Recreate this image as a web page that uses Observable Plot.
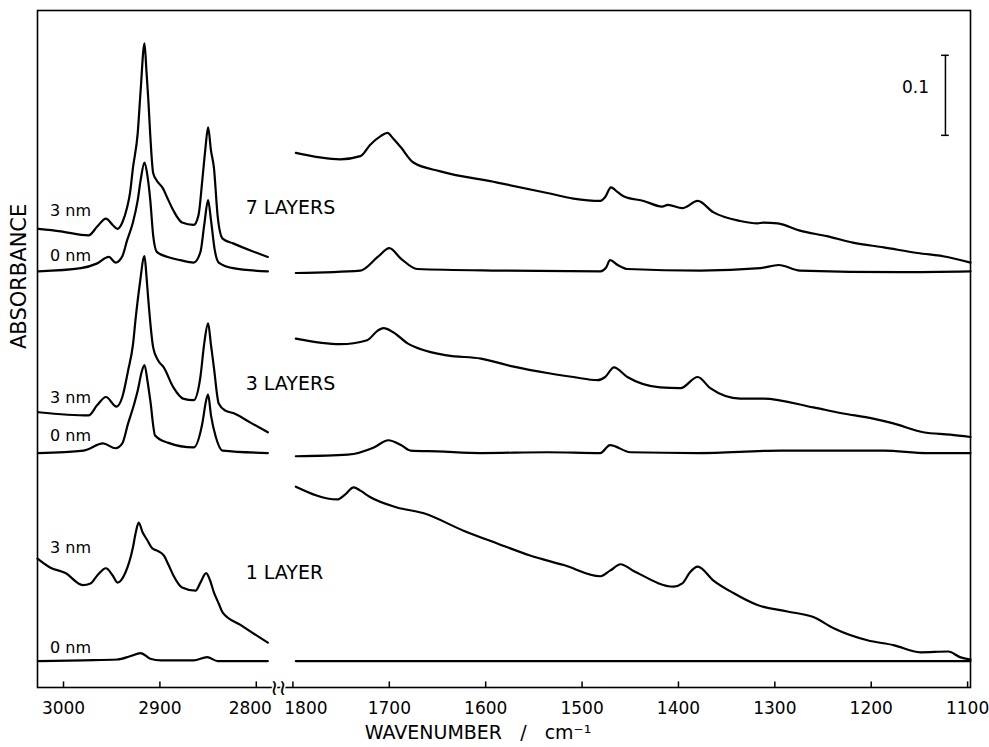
<!DOCTYPE html>
<html>
<head>
<meta charset="utf-8">
<script src="https://cdn.jsdelivr.net/npm/d3@7"></script>
<script src="https://cdn.jsdelivr.net/npm/@observablehq/plot@0.6"></script>
<style>
  html, body { margin: 0; padding: 0; background: #fff; }
  #chart { width: 989px; height: 747px; }
</style>
</head>
<body>
<div id="chart"></div>
<script>
// ---- Data (wavenumber cm^-1, displayed absorbance incl. vertical offset) ----
const layers7_3nm = [
  [3026,0.573],[3003,0.570],[2974,0.565],[2965,0.576],[2956,0.586],[2949,0.578],[2944,0.573],
  [2939,0.581],[2934,0.600],[2931,0.618],[2928,0.649],[2923,0.693],[2920,0.746],[2916,0.805],
  [2914,0.771],[2912,0.734],[2910,0.690],[2907,0.643],[2903,0.633],[2897,0.624],[2892,0.611],
  [2886,0.596],[2877,0.581],[2865,0.578],[2860,0.590],[2856,0.634],[2853,0.671],[2850,0.700],
  [2847,0.671],[2844,0.650],[2840,0.588],[2835,0.561],[2824,0.555],[2806,0.546],[2788,0.538],
  [1797,0.668],[1751,0.660],[1730,0.664],[1720,0.678],[1709,0.689],[1702,0.693],[1696,0.686],
  [1688,0.675],[1675,0.656],[1647,0.645],[1588,0.631],[1536,0.618],[1509,0.611],[1481,0.608],
  [1476,0.613],[1470,0.625],[1463,0.619],[1457,0.614],[1436,0.608],[1417,0.601],[1411,0.603],
  [1396,0.599],[1380,0.608],[1364,0.594],[1336,0.583],[1318,0.580],[1312,0.581],[1297,0.580],
  [1274,0.571],[1246,0.564],[1219,0.556],[1187,0.550],[1152,0.543],[1121,0.538],[1097,0.531]
];
const layers7_0nm = [
  [3026,0.520],[2982,0.524],[2965,0.530],[2953,0.538],[2946,0.531],[2939,0.539],[2934,0.559],
  [2928,0.581],[2923,0.609],[2920,0.634],[2916,0.656],[2913,0.640],[2910,0.609],[2907,0.565],
  [2903,0.544],[2892,0.538],[2879,0.534],[2865,0.531],[2858,0.544],[2854,0.578],[2850,0.609],
  [2847,0.584],[2843,0.546],[2839,0.531],[2824,0.524],[2788,0.520],
  [1797,0.518],[1730,0.521],[1712,0.538],[1700,0.549],[1688,0.536],[1671,0.523],[1585,0.521],
  [1481,0.520],[1475,0.525],[1471,0.534],[1463,0.528],[1453,0.523],[1377,0.521],[1315,0.524],
  [1296,0.528],[1274,0.521],[1170,0.519],[1097,0.520]
];
const layers3_3nm = [
  [3026,0.344],[2974,0.340],[2965,0.353],[2956,0.363],[2945,0.351],[2939,0.363],[2933,0.396],
  [2928,0.428],[2925,0.463],[2921,0.503],[2916,0.539],[2914,0.515],[2912,0.484],[2907,0.425],
  [2902,0.409],[2896,0.400],[2886,0.375],[2876,0.361],[2865,0.359],[2858,0.388],[2854,0.430],
  [2850,0.455],[2847,0.428],[2844,0.400],[2839,0.355],[2832,0.346],[2824,0.343],[2806,0.331],
  [2788,0.319],
  [1797,0.436],[1751,0.429],[1723,0.434],[1712,0.446],[1706,0.449],[1696,0.444],[1681,0.430],
  [1668,0.423],[1640,0.415],[1605,0.411],[1571,0.401],[1536,0.393],[1509,0.388],[1484,0.384],
  [1476,0.388],[1467,0.400],[1453,0.388],[1419,0.375],[1398,0.374],[1380,0.388],[1367,0.374],
  [1336,0.361],[1312,0.361],[1260,0.350],[1232,0.343],[1198,0.336],[1177,0.330],[1146,0.319],
  [1118,0.316],[1097,0.313]
];
const layers3_0nm = [
  [3026,0.293],[2979,0.296],[2959,0.305],[2946,0.299],[2939,0.305],[2933,0.330],[2927,0.353],
  [2923,0.371],[2919,0.394],[2916,0.403],[2913,0.384],[2910,0.359],[2905,0.315],[2892,0.306],
  [2865,0.300],[2856,0.330],[2852,0.359],[2850,0.366],[2847,0.340],[2842,0.313],[2835,0.296],
  [2788,0.293],
  [1797,0.289],[1743,0.291],[1716,0.300],[1701,0.309],[1688,0.303],[1678,0.296],[1650,0.295],
  [1605,0.293],[1536,0.294],[1481,0.293],[1471,0.303],[1450,0.294],[1380,0.293],[1294,0.296],
  [1187,0.296],[1142,0.293],[1097,0.293]
];
const layers1_3nm = [
  [3027,0.161],[3014,0.150],[2998,0.143],[2980,0.128],[2972,0.130],[2965,0.140],[2956,0.149],
  [2949,0.140],[2944,0.131],[2936,0.143],[2928,0.175],[2925,0.194],[2922,0.206],[2918,0.194],
  [2913,0.184],[2908,0.174],[2903,0.171],[2896,0.165],[2891,0.153],[2886,0.140],[2877,0.125],
  [2863,0.121],[2858,0.131],[2852,0.143],[2848,0.134],[2844,0.119],[2839,0.105],[2835,0.094],
  [2816,0.078],[2788,0.056],
  [1797,0.251],[1754,0.235],[1746,0.241],[1737,0.250],[1730,0.246],[1720,0.238],[1692,0.225],
  [1665,0.218],[1623,0.196],[1588,0.180],[1554,0.165],[1519,0.153],[1481,0.139],[1471,0.146],
  [1460,0.154],[1447,0.146],[1405,0.126],[1396,0.130],[1388,0.144],[1380,0.151],[1364,0.134],
  [1343,0.118],[1318,0.103],[1287,0.095],[1260,0.088],[1239,0.074],[1204,0.059],[1177,0.053],
  [1149,0.044],[1120,0.045],[1108,0.038],[1097,0.035]
];
const layers1_0nm = [
  [3026,0.033],[2979,0.034],[2944,0.035],[2931,0.039],[2920,0.043],[2910,0.036],[2899,0.034],
  [2865,0.034],[2851,0.038],[2840,0.033],[2788,0.033],
  [1797,0.033],[1600,0.033],[1400,0.033],[1200,0.033],[1097,0.033]
];
const seriesNames = ["7L 3nm","7L 0nm","3L 3nm","3L 0nm","1L 3nm","1L 0nm"];
const seriesData = [layers7_3nm, layers7_0nm, layers3_3nm, layers3_0nm, layers1_3nm, layers1_0nm];

const thicknessLabels = ["3 nm","0 nm","3 nm","0 nm","3 nm","0 nm"];
const thicknessLabelY = [0.595, 0.539, 0.3625, 0.314, 0.174, 0.050];
const layerLabels = ["7 LAYERS","3 LAYERS","1 LAYER"];
const layerLabelY = [0.599, 0.379, 0.143];

const tickValues = [3000, 2900, 2800, 1800, 1700, 1600, 1500, 1400, 1300, 1200, 1100];
const tickLabelsMid = [3000, 2900, 1700, 1600, 1500, 1400, 1300, 1200, 1100];

// broken axis: two wavenumber windows
const LEFT_MAX = 3027, LEFT_MIN = 2788, RIGHT_MAX = 1804, RIGHT_MIN = 1097, GAP = 22;
const LEFT_SPAN = LEFT_MAX - LEFT_MIN;
const TOTAL = LEFT_SPAN + GAP + (RIGHT_MAX - RIGHT_MIN);
const pos = wn => wn > 2200 ? LEFT_MAX - wn : LEFT_SPAN + GAP + (RIGHT_MAX - wn);
const invPos = p => p <= LEFT_SPAN + GAP / 2 ? LEFT_MAX - p : RIGHT_MAX - (p - LEFT_SPAN - GAP);
const BREAK_POS = LEFT_SPAN + GAP / 2;

// scale bar
const SCALE_WN = 1123, SCALE_BASE = 0.69, SCALE_LEN = 0.1, SCALE_SERIF = 4;
const SCALE_TEXT_WN = 1154;

const rows = [];
seriesData.forEach((arr, i) => {
  arr.forEach(([wn, a]) => rows.push({series: seriesNames[i], seg: wn > 2200 ? "L" : "R", wn, a}));
});

const labelsThk = thicknessLabels.map((t, i) => ({t, y: thicknessLabelY[i]}));
const labelsLay = layerLabels.map((t, i) => ({t, y: layerLabelY[i]}));

const axisOpts = {
  tickSize: 0, tickPadding: 14, fontSize: 17, label: null,
  tickFormat: p => String(Math.round(invPos(p)))
};

const chart = Plot.plot({
  width: 989,
  height: 747,
  marginLeft: 37,
  marginRight: 19,
  marginTop: 10,
  marginBottom: 60,
  style: {fontFamily: "DejaVu Sans", background: "#fff", color: "#000"},
  x: {domain: [0, TOTAL], axis: null},
  y: {domain: [0, 0.846], axis: null},
  marks: [
    Plot.frame({stroke: "#000", strokeWidth: 1.6}),
    Plot.line(rows, {
      x: d => pos(d.wn), y: "a", z: d => d.series + d.seg,
      curve: "monotone-x", stroke: "#000", strokeWidth: 2.2
    }),
    // inward ticks
    Plot.ruleX(tickValues, {x: d => pos(d), y1: 0, y2: 0.007, stroke: "#000", strokeWidth: 1.5}),
    Plot.axisX(tickLabelsMid.map(pos), axisOpts),
    Plot.axisX([pos(2800)], {...axisOpts, dx: -6}),
    Plot.axisX([pos(1800)], {...axisOpts, dx: 13}),
    // axis break mark
    Plot.text([BREAK_POS], {
      x: d => d, y: () => 0, text: () => "≀≀", fontSize: 22,
      fill: "#000", stroke: "#fff", strokeWidth: 3
    }),
    // axis titles
    Plot.text(["WAVENUMBER   /   cm⁻¹"], {
      frameAnchor: "bottom", text: d => d, dy: 51, dx: -26, fontSize: 19, fill: "#000"
    }),
    Plot.text(["ABSORBANCE"], {
      frameAnchor: "left", text: d => d, rotate: -90, dx: -18, fontSize: 21, fill: "#000"
    }),
    // series labels
    Plot.text(labelsThk, {x: () => pos(3014), y: "y", text: "t", textAnchor: "start", fontSize: 16, fill: "#000"}),
    Plot.text(labelsLay, {x: () => pos(2811), y: "y", text: "t", textAnchor: "start", fontSize: 19, fill: "#000"}),
    // scale bar
    Plot.ruleX([SCALE_WN], {x: d => pos(d), y1: SCALE_BASE, y2: SCALE_BASE + SCALE_LEN, stroke: "#000", strokeWidth: 1.5}),
    Plot.ruleY([SCALE_BASE, SCALE_BASE + SCALE_LEN], {
      y: d => d, x1: pos(SCALE_WN + SCALE_SERIF), x2: pos(SCALE_WN - SCALE_SERIF), stroke: "#000", strokeWidth: 1.5
    }),
    Plot.text(["0.1"], {x: () => pos(SCALE_TEXT_WN), y: () => SCALE_BASE + SCALE_LEN / 2 + 0.01, text: d => d, fontSize: 17, fill: "#000"})
  ]
});
document.getElementById("chart").appendChild(chart);
</script>
</body>
</html>
